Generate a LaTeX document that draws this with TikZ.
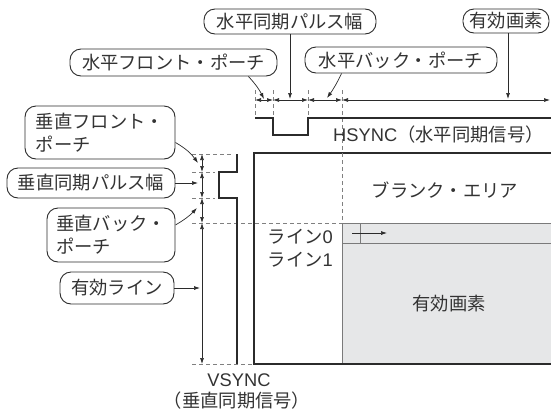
\documentclass[tikz,border=0pt]{standalone}
\usepackage{fontspec}
\setmainfont{Noto Sans CJK JP}
\newfontfamily\latinfont{Liberation Sans}
\usetikzlibrary{arrows.meta}
\definecolor{ink}{HTML}{2B2B2B}
\definecolor{txt}{HTML}{333333}
\definecolor{scr}{HTML}{E6E7E8}
\definecolor{edgegray}{HTML}{7A7A7A}
\newcommand\jpfs{\fontsize{18.3}{23}\selectfont}
\newcommand\lt[1]{{\latinfont #1}}
\begin{document}
\begin{tikzpicture}[x=1pt,y=-1pt,
  bub/.style={draw=ink, line width=0.9pt, rounded corners=11pt, font=\jpfs, text=txt, inner sep=0pt, align=left},
  lbl/.style={font=\jpfs, text=txt, inner sep=0pt},
  tipped/.style={-{Latex[length=6pt,width=4pt]}},
  dim/.style={draw=ink, line width=0.7pt, {Latex[length=6pt,width=4pt]}-{Latex[length=6pt,width=4pt]}},
  call/.style={draw=ink, line width=0.7pt, tipped},
  guide/.style={draw=ink!60, line width=0.7pt, dash pattern=on 4pt off 3pt},
  sig/.style={draw=ink, line width=1.5pt},
  thinedge/.style={draw=edgegray, line width=0.8pt}]
\useasboundingbox (0,0) rectangle (551,413);

% ---------- screen ----------
\fill[scr] (342,223) rectangle (551,364);
\draw[thinedge] (551,223) -- (342,223) -- (342,364);
\draw[thinedge] (342,243) -- (551,243);
\draw[sig] (551,153) -- (254,153) -- (254,364) -- (551,364);
\draw[thinedge, line width=0.6pt] (360,223) -- (360,243);
\coordinate (la) at (352,233);
\coordinate (lb) at (387,233);
\draw[call] (la) -- (lb);

% ---------- horizontal timing ----------
\coordinate (h0) at (255,100);
\coordinate (h1) at (273,100);
\coordinate (h2) at (308,100);
\coordinate (h3) at (342,100);
\coordinate (hR) at (550,100);
\draw[guide] (255,90) -- (255,118);
\draw[guide] (273,90) -- (273,118);
\draw[guide] (308,90) -- (308,118);
\draw[guide] (342,90) -- (342,223);
\draw[dim] (h0) -- (h1);
\draw[dim] (h1) -- (h2);
\draw[dim] (h2) -- (h3);
\draw[dim] (h3) -- (hR);
\draw[sig] (255,118) -- (273,118) -- (273,135) -- (308,135) -- (308,118) -- (551,118);

% ---------- vertical timing ----------
\coordinate (v0) at (202,154);
\coordinate (v1) at (202,172);
\coordinate (v2) at (202,198);
\coordinate (v3) at (202,223);
\coordinate (v4) at (202,364);
\draw[guide] (192,154) -- (233,154);
\draw[guide] (192,172) -- (215,172);
\draw[guide] (192,198) -- (215,198);
\draw[guide] (192,223) -- (342,223);
\draw[guide] (192,364) -- (254,364);
\draw[dim] (v0) -- (v1);
\draw[dim] (v1) -- (v2);
\draw[dim] (v2) -- (v3);
\draw[dim] (v3) -- (v4);
\draw[sig] (237,154) -- (237,172) -- (219,172) -- (219,198) -- (237,198) -- (237,364);

% ---------- callouts top ----------
\node[bub, minimum width=172, minimum height=25] (hsw) at (290,21.5) {水平同期パルス幅};
\node[bub, minimum width=86, minimum height=24] (hact) at (506,21) {有効画素};
\node[bub, minimum width=207, minimum height=27] (hfp) at (173.5,62.5) {水平フロント・ポーチ};
\node[bub, minimum width=192, minimum height=26] (hbp) at (401,60) {水平バック・ポーチ};

\coordinate (tfp) at (264,99);
\coordinate (tsw) at (290,99);
\coordinate (tbp) at (327,98);
\coordinate (tact) at (508,99);
\draw[call] ([xshift=-29pt]hfp.south east) to[bend left=8] (tfp);
\draw[call] (hsw) -- (tsw);
\draw[call] ([xshift=37pt]hbp.south west) to[bend left=5] (tbp);
\draw[call] (hact.south -| tact) -- (tact);

% ---------- callouts left ----------
\node[bub, minimum width=150, minimum height=53] (vfp) at (100,132.5) {垂直フロント・\\ポーチ};
\node[bub, minimum width=168, minimum height=30] (vsw) at (91,183) {垂直同期パルス幅};
\node[bub, minimum width=128, minimum height=54] (vbp) at (111,235) {垂直バック・\\ポーチ};
\node[bub, minimum width=114, minimum height=32] (vact) at (117,288) {有効ライン};

\coordinate (tvfp) at (198,163);
\coordinate (tvsw) at (198,183);
\coordinate (tvbp) at (197,208);
\coordinate (tvact) at (200,288);
\draw[call] ([yshift=-10pt]vfp.east) to[bend left=12] (tvfp);
\draw[call] (vsw) -- (tvsw);
\draw[call] ([yshift=10pt]vbp.east) to[bend right=8] (tvbp);
\draw[call] (vact) -- (tvact);

% ---------- labels ----------
\node[lbl, anchor=west] (hsync) at (333,135) {\lt{HSYNC}（水平同期信号）};
\node[lbl] (blank) at (445,190) {ブランク・エリア};
\node[lbl, anchor=east] (l0) at (333,237) {ライン\lt{0}};
\node[lbl, anchor=east] (l1) at (333,260) {ライン\lt{1}};
\node[lbl] (act) at (449,304) {有効画素};
\node[lbl] (vsync) at (239,380) {\lt{VSYNC}};
\node[lbl] (vsyncj) at (237,401) {（垂直同期信号）};
\end{tikzpicture}
\end{document}
